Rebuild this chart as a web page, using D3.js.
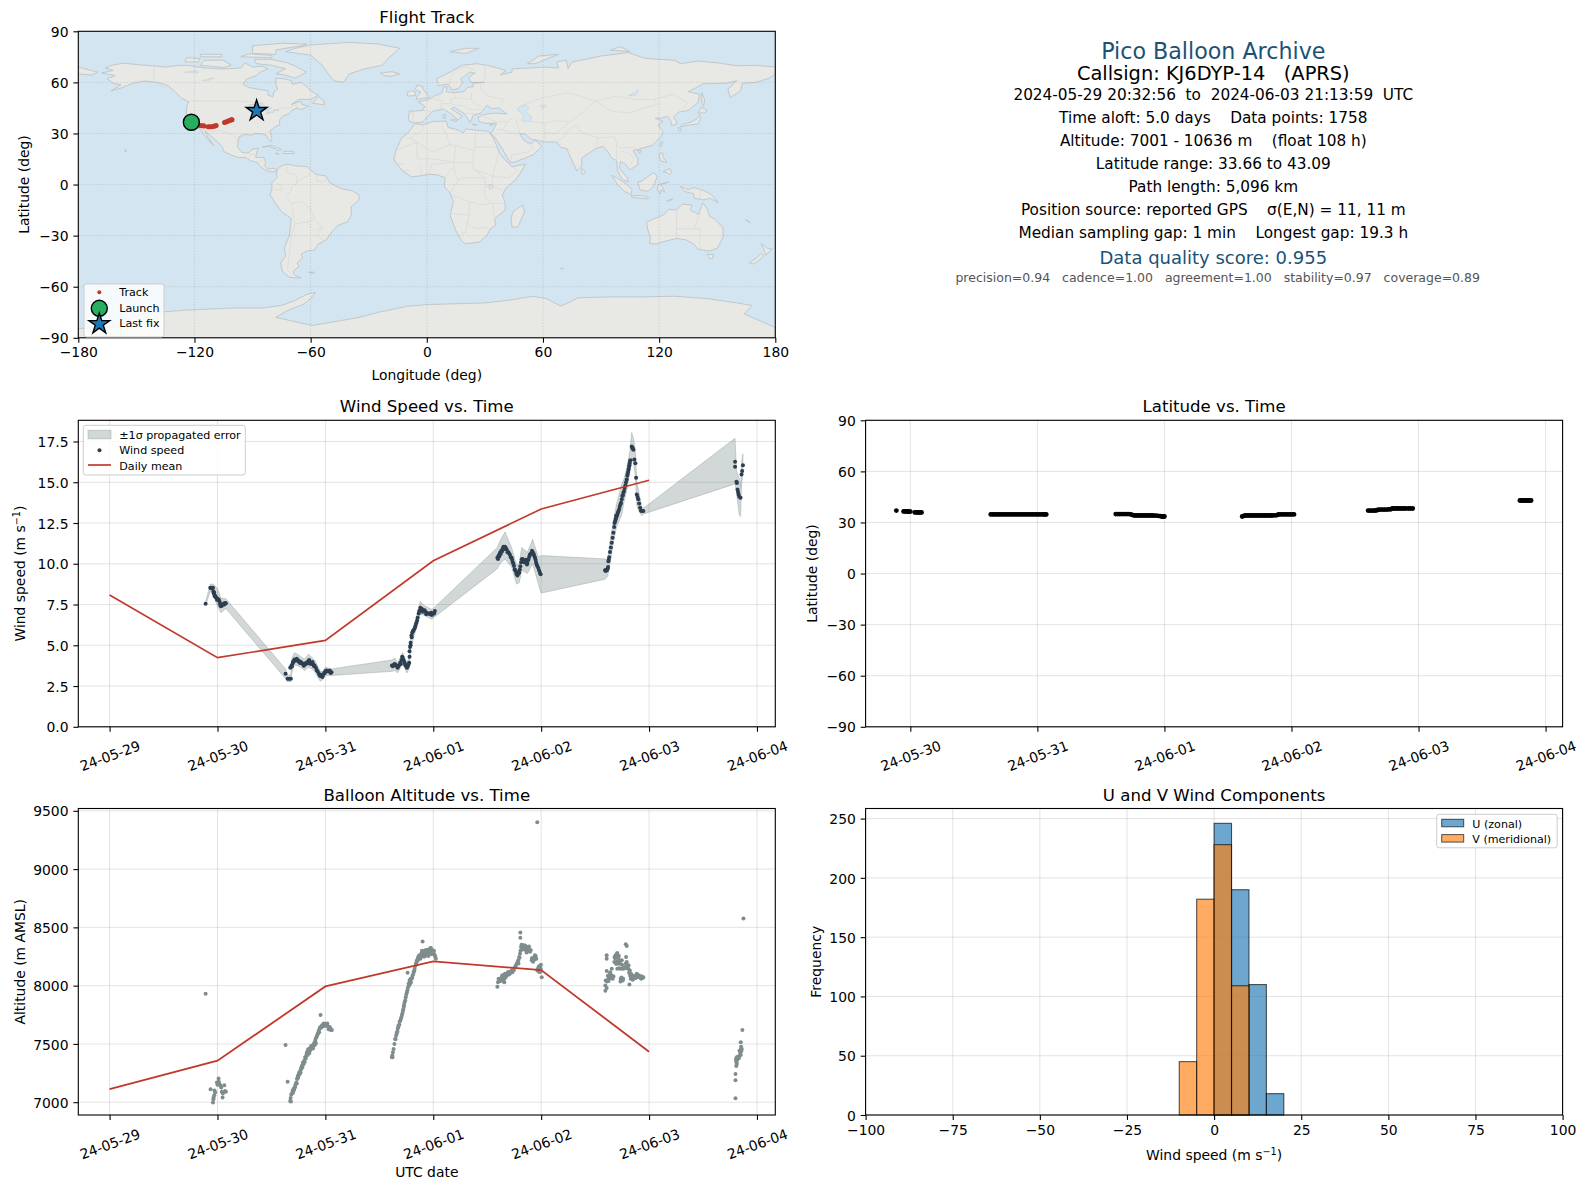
<!DOCTYPE html>
<html>
<head>
<meta charset="utf-8">
<script src="https://cdn.jsdelivr.net/npm/d3@7"></script>
<style>
html, body { margin: 0; padding: 0; background: #fff; overflow: hidden; }
text { font-family: "DejaVu Sans", sans-serif; fill: #000; white-space: pre; }
.tick text { font-size: 13.9px; }
.tick line { stroke: #000; stroke-width: 1.1; }
.domain { display: none; }
</style>
</head>
<body>
<svg id="fig" width="1586" height="1189"></svg>
<script>
// ---- data (x = days since 2024-05-29 00:00 UTC) ----
const dateTicks = [0, 1, 2, 3, 4, 5, 6];
const dateLabels = ["24-05-29", "24-05-30", "24-05-31", "24-06-01", "24-06-02", "24-06-03", "24-06-04"];
const latDateTicks = [1, 2, 3, 4, 5, 6];
const latDateLabels = dateLabels.slice(1);

const windMean = [[0, 8.08], [1, 4.24], [2, 5.3], [3, 10.18], [4, 13.36], [5, 15.12]];
const altMean = [[0, 7112], [1, 7356], [2, 7993], [3, 8208], [4, 8134], [5, 7433]];

const windPoints = [
  [.89,7.55],[.933,8.53],[.945,8.53],[.958,8.53],[.962,8.3],[.966,8.18],[.972,8.08],[.98,8.0],[.99,7.91],[1.002,7.85],[1.013,7.78],[1.024,7.55],[1.032,7.4],[1.04,7.42],[1.05,7.5],[1.06,7.56],[1.07,7.6],[1.078,7.58],
  [1.631,3.25],[1.65,2.94],[1.665,2.94],[1.68,2.94],[1.674,3.62],[1.685,3.75],[1.696,3.89],[1.705,4.02],[1.714,4.13],[1.728,4.12],[1.742,4.09],[1.757,4.03],[1.773,3.97],[1.79,3.88],[1.807,3.8],[1.822,3.86],[1.833,3.97],[1.844,4.03],[1.858,3.95],[1.875,3.89],[1.888,3.84],[1.9,3.76],[1.913,3.6],[1.928,3.41],[1.94,3.25],[1.952,3.11],[1.965,3.1],[1.977,3.15],[1.988,3.28],[2.0,3.41],[2.015,3.4],[2.03,3.39],[2.045,3.37],[2.057,3.35],
  [2.617,3.76],[2.632,3.78],[2.647,3.82],[2.658,3.74],[2.669,3.62],[2.682,3.78],[2.694,3.93],[2.706,4.1],[2.716,4.23],[2.725,4.08],[2.734,3.93],[2.745,3.76],[2.756,3.62],[2.767,3.75],[2.777,3.93],[2.78,4.3],[2.78,4.64],[2.79,5.0],[2.79,5.15],[2.798,5.6],[2.805,5.77],[2.815,5.9],[2.83,6.07],[2.842,6.35],[2.855,6.69],[2.865,6.95],[2.88,7.3],[2.895,7.22],[2.91,7.14],[2.925,7.05],[2.94,6.99],[2.96,6.95],[2.987,6.85],[3.0,6.97],[3.015,7.1],
  [3.594,10.37],[3.606,10.52],[3.618,10.67],[3.63,10.8],[3.643,10.92],[3.655,11.0],[3.665,11.04],[3.68,10.88],[3.695,10.72],[3.71,10.55],[3.726,10.37],[3.737,10.1],[3.748,9.86],[3.76,9.6],[3.773,9.35],[3.785,9.38],[3.797,9.45],[3.807,9.85],[3.82,10.27],[3.835,10.2],[3.85,10.16],[3.862,10.08],[3.872,10.02],[3.884,10.3],[3.896,10.57],[3.91,10.66],[3.921,10.72],[3.932,10.55],[3.943,10.37],[3.953,10.1],[3.964,9.86],[3.98,9.6],[3.995,9.35],
  [4.592,9.61],[4.604,9.63],[4.617,9.69],[4.623,10.16],[4.63,10.4],[4.638,10.72],[4.646,11.0],[4.654,11.29],[4.662,11.6],[4.669,11.9],[4.677,12.25],[4.685,12.6],[4.692,12.78],[4.7,12.92],[4.71,13.12],[4.722,13.33],[4.735,13.65],[4.747,13.95],[4.757,14.2],[4.768,14.46],[4.78,14.8],[4.793,15.17],[4.802,15.5],[4.811,15.79],[4.818,16.05],[4.824,16.3],[4.839,17.2],[4.847,17.1],[4.855,17.0],[4.864,16.4],[4.873,16.16],[4.88,15.28],[4.886,14.25],[4.893,14.1],[4.9,13.95],[4.908,13.7],[4.917,13.44],[4.925,13.25],[4.932,13.23],[4.947,13.23],
  [5.797,16.26],[5.797,15.95],[5.81,15.03],[5.814,14.95],[5.82,14.56],[5.825,14.4],[5.83,14.25],[5.836,14.11],[5.848,14.05],[5.857,15.48],[5.863,15.69],[5.87,16.05]
];
// second pass over the thick parts of the trace
const windPointsThick = [
  [.94,8.5],[.952,8.5],[.968,8.25],[.975,8.0],[.985,7.95],[.995,7.8],[1.008,7.8],[1.018,7.7],[1.028,7.45],[1.045,7.5],[1.065,7.5],
  [1.69,3.7],[1.70,3.98],[1.72,4.05],[1.735,4.18],[1.75,4.0],[1.765,3.92],[1.78,3.88],[1.80,3.75],[1.815,3.9],[1.84,3.9],[1.85,4.1],[1.865,3.85],[1.88,3.98],[1.895,3.72],[1.92,3.45],[1.945,3.2],[1.96,3.2],[1.972,3.05],[1.995,3.3],[2.01,3.45],[2.04,3.45],[2.05,3.3],
  [2.625,3.72],[2.64,3.85],[2.665,3.75],[2.675,3.7],[2.70,3.85],[2.712,4.3],[2.72,4.1],[2.74,3.8],[2.75,3.72],[2.76,3.7],[2.772,3.85],[2.785,4.9],[2.80,5.5],[2.81,5.85],[2.82,5.95],[2.835,6.2],[2.85,6.5],[2.87,7.1],[2.885,7.25],[2.9,7.05],[2.92,7.15],[2.935,6.9],[2.97,6.9],[2.98,7.0],[3.008,6.95],
  [3.6,10.3],[3.612,10.45],[3.625,10.6],[3.637,10.75],[3.65,11.05],[3.66,10.9],[3.672,10.98],[3.688,10.7],[3.702,10.65],[3.718,10.4],[3.73,10.25],[3.742,10.0],[3.755,9.65],[3.767,9.5],[3.78,9.28],[3.79,9.5],[3.802,9.65],[3.815,10.1],[3.828,10.3],[3.842,10.1],[3.857,10.25],[3.868,9.95],[3.878,10.2],[3.89,10.45],[3.903,10.6],[3.915,10.8],[3.928,10.65],[3.938,10.45],[3.948,10.25],[3.958,9.95],[3.972,9.75],[3.988,9.45],
  [4.598,9.55],[4.61,9.6],[4.62,9.8],[4.626,10.25],[4.68,12.5],[4.69,12.7],[4.695,12.95],[4.705,13.0],[4.715,13.2],[4.728,13.5],[4.74,13.75],[4.752,14.15],[4.762,14.35],[4.774,14.65],[4.786,15.0],[4.798,15.4],[4.806,15.65],[4.815,15.95],[4.82,16.15],[4.828,16.35],[4.842,17.15],[4.85,17.05]
];

// time, lower edge, upper edge of the +-1 sigma band
const windBand = [
  [.89,7.45,7.65],[.933,8.3,8.75],[.96,8.1,8.75],[1.0,7.4,8.5],[1.032,7.0,7.9],[1.078,7.25,7.85],
  [1.631,2.95,3.55],[1.65,2.75,3.15],[1.68,2.78,3.2],[1.69,3.35,4.2],[1.714,3.8,4.55],[1.742,3.75,4.45],[1.773,3.65,4.3],[1.807,3.45,4.15],[1.844,3.65,4.45],[1.875,3.55,4.25],[1.9,3.4,4.1],[1.928,3.05,3.75],[1.952,2.8,3.4],[1.977,2.9,3.4],[2.0,3.15,3.65],[2.057,3.15,3.55],
  [2.617,3.4,4.1],[2.647,3.45,4.2],[2.669,3.3,3.9],[2.716,3.85,4.55],[2.756,3.3,3.95],[2.777,3.55,4.3],[2.79,4.8,5.5],[2.83,5.75,6.4],[2.88,6.9,7.7],[2.91,6.85,7.45],[2.987,6.6,7.2],[3.015,6.75,7.35],
  [3.594,9.7,11.0],[3.618,10.0,11.4],[3.665,10.3,11.95],[3.726,9.8,11.0],[3.773,8.75,9.9],[3.797,8.85,10.05],[3.82,9.6,11.0],[3.872,9.4,10.7],[3.921,10.0,11.5],[3.964,9.0,10.6],[3.98,8.6,10.4],[4.0,8.2,10.5],
  [4.592,9.05,10.3],[4.617,9.25,10.2],[4.638,10.0,11.4],[4.669,11.3,12.6],[4.7,12.3,13.7],[4.747,13.0,14.9],[4.768,13.8,15.2],[4.793,14.5,15.9],[4.811,15.2,16.5],[4.824,15.7,17.0],[4.839,16.4,18.05],[4.855,16.2,17.7],[4.873,15.4,16.9],[4.886,13.6,15.0],[4.9,13.3,14.6],[4.932,12.95,13.5],[4.947,13.05,13.4],
  [5.797,14.9,17.7],[5.81,14.4,15.7],[5.836,13.0,15.2],[5.848,12.9,14.7],[5.857,14.8,16.2],[5.87,15.6,16.75]
];

const altPoints = [
  [.89,7930],[.936,7112],[.958,6997],[.964,7040],[.962,7025],[.97,7060],[.979,7083],[.972,7100],[.995,7169],[1.0,7150],[1.01,7204],[1.012,7175],[1.02,7155],[1.028,7140],[1.035,7126],[1.04,7090],[1.047,7040],[1.05,7075],[1.063,7146],[1.07,7095],[1.078,7089],
  [1.631,7491],[1.65,7175],[1.674,7011],[1.678,7035],[1.684,7065],[1.696,7098],[1.706,7115],[1.715,7126],[1.722,7150],[1.73,7169],[1.737,7200],[1.745,7227],[1.755,7250],[1.767,7270],[1.775,7295],[1.783,7313],[1.792,7340],[1.804,7356],[1.812,7385],[1.823,7399],[1.83,7430],[1.844,7442],[1.85,7420],[1.858,7465],[1.866,7471],[1.878,7470],[1.891,7485],[1.898,7510],[1.906,7528],[1.912,7505],[1.918,7560],[1.928,7585],[1.937,7610],[1.946,7629],[1.955,7749],[1.958,7645],[1.968,7657],[1.98,7668],[1.99,7665],[2.0,7672],[2.012,7665],[2.023,7651],[2.035,7640],[2.045,7634],[2.06,7620],
  [2.617,7385],[2.62,7400],[2.626,7428],[2.632,7456],[2.64,7500],[2.647,7542],[2.655,7570],[2.663,7600],[2.67,7630],[2.678,7657],[2.688,7690],[2.7,7715],[2.71,7750],[2.719,7786],[2.727,7820],[2.734,7858],[2.745,7900],[2.756,7944],[2.762,8110],[2.765,7985],[2.771,8016],[2.78,8045],[2.793,8030],[2.8,8060],[2.808,8088],[2.818,8120],[2.827,8145],[2.838,8185],[2.848,8217],[2.858,8240],[2.873,8260],[2.88,8230],[2.89,8275],[2.901,8289],[2.901,8378],[2.91,8250],[2.926,8303],[2.935,8260],[2.95,8289],[2.96,8310],[2.978,8323],[2.985,8270],[2.99,8305],[3.003,8289],[3.012,8265],[3.024,8231],
  [3.594,7990],[3.612,8045],[3.62,8060],[3.634,8073],[3.658,8030],[3.645,8050],[3.65,8085],[3.665,8102],[3.68,8085],[3.695,8116],[3.71,8105],[3.726,8131],[3.74,8140],[3.757,8159],[3.772,8185],[3.788,8217],[3.796,8245],[3.804,8274],[3.807,8412],[3.807,8455],[3.813,8332],[3.825,8340],[3.835,8346],[3.847,8320],[3.859,8303],[3.87,8320],[3.881,8332],[3.892,8310],[3.903,8303],[3.912,8217],[3.92,8235],[3.934,8240],[3.94,8225],[3.949,8254],[3.964,8131],[3.964,9402],[3.972,8150],[3.983,8116],[3.989,8168],[3.996,8145],[4.005,8073],
  [4.595,7956],[4.595,8002],[4.607,7979],[4.598,8045],[4.607,8125],[4.61,8035],[4.623,8059],[4.618,8085],[4.638,8102],[4.63,8070],[4.645,8065],[4.654,8145],[4.663,8059],[4.607,8260],[4.607,8231],[4.678,8203],[4.685,8235],[4.69,8260],[4.7,8270],[4.71,8260],[4.716,8231],[4.7,8205],[4.712,8190],[4.731,8188],[4.706,8145],[4.722,8150],[4.747,8217],[4.762,8145],[4.737,8059],[4.756,8045],[4.745,8070],[4.787,8246],[4.793,8203],[4.808,8145],[4.8,8170],[4.824,8088],[4.818,8010],[4.784,8355],[4.793,8340],[4.83,8060],[4.84,8073],[4.848,8050],[4.855,8059],[4.87,8085],[4.886,8102],[4.895,8075],[4.905,8090],[4.916,8073],[4.93,8080],[4.947,8073],
  [5.801,7034],[5.801,7189],[5.801,7241],[5.813,7327],[5.807,7356],[5.81,7340],[5.813,7385],[5.82,7370],[5.828,7393],[5.84,7400],[5.85,7405],[5.838,7442],[5.85,7450],[5.859,7456],[5.85,7514],[5.865,7620],[5.875,8576]
];
// second pass, the ramps and clusters are several dots wide
const altPointsThick = [
  [1.68,7005],[1.69,7075],[1.7,7080],[1.71,7105],[1.72,7130],[1.735,7160],[1.742,7200],[1.75,7215],[1.76,7240],[1.77,7255],[1.778,7285],[1.787,7300],[1.797,7325],[1.808,7345],[1.818,7375],[1.827,7420],[1.835,7405],[1.84,7455],[1.854,7440],[1.862,7450],[1.87,7485],[1.885,7460],[1.895,7500],[1.902,7490],[1.91,7545],[1.922,7570],[1.932,7590],[1.942,7600],[1.95,7640],[1.963,7640],[1.975,7650],[1.985,7675],[1.995,7655],[2.005,7655],[2.018,7675],[2.03,7625],[2.04,7645],[2.05,7620],
  [2.622,7385],[2.65,7540],[2.66,7585],[2.668,7605],[2.675,7640],[2.685,7665],[2.695,7700],[2.705,7730],[2.715,7765],[2.723,7800],[2.73,7835],[2.74,7875],[2.75,7925],[2.76,7960],[2.775,8000],[2.785,8015],[2.79,8060],[2.805,8070],[2.815,8100],[2.825,8125],[2.835,8170],[2.845,8200],[2.855,8215],[2.865,8255],[2.885,8245],[2.895,8300],[2.905,8265],[2.915,8295],[2.92,8250],[2.93,8280],[2.94,8305],[2.945,8265],[2.955,8255],[2.965,8285],[2.972,8320],[2.98,8290],[2.995,8280],[3.006,8300],[3.018,8250],
  [3.6,8030],[3.605,8060],[3.625,8040],[3.64,8090],[3.66,8060],[3.672,8075],[3.688,8110],[3.703,8095],[3.718,8120],[3.733,8115],[3.748,8135],[3.765,8170],[3.78,8200],[3.79,8190],[3.8,8240],[3.808,8300],[3.818,8350],[3.828,8310],[3.84,8320],[3.852,8345],[3.865,8285],[3.875,8300],[3.887,8335],[3.897,8290],[3.915,8235],[3.925,8205],[3.942,8260],[3.955,8230],[3.968,8130],[3.978,8165],[3.98,8140],[3.993,8120],[3.998,8180],
  [4.68,8245],[4.695,8250],[4.705,8280],[4.72,8255],[4.725,8210],[4.695,8185],[4.735,8145],[4.75,8180],[4.755,8150],[4.778,8160],[4.785,8190],[4.79,8150],[4.81,8175],[4.815,8110],[4.822,8130],[4.835,8100],[4.625,8040],[4.64,8115],[4.65,8090],[4.67,8080],[4.735,8035],[4.76,8060],[4.85,8085],[4.878,8065],[4.925,8060],[4.94,8065],
  [5.808,7310],[5.806,7370],[5.815,7360],[5.822,7385],[5.834,7380],[5.845,7425],[5.856,7440],[5.853,7475]
];

const latPoints = [
  [.89,37.0],[.947,36.5],[.965,36.5],[.985,36.4],[1.0,36.4],[1.035,35.9],[1.055,35.9],[1.07,35.9],[1.088,35.9],
  [1.633,34.7],[1.66,34.7],[1.69,34.7],[1.72,34.7],[1.75,34.7],[1.78,34.7],[1.81,34.7],[1.84,34.7],[1.87,34.7],[1.9,34.7],[1.93,34.7],[1.96,34.7],[1.99,34.7],[2.02,34.7],[2.05,34.7],[2.07,34.7],
  [2.617,34.9],[2.645,34.9],[2.675,34.9],[2.705,34.9],[2.735,34.8],[2.757,34.2],[2.785,34.1],[2.815,34.1],[2.845,34.1],[2.875,34.1],[2.905,34.1],[2.935,34.0],[2.968,33.7],[2.985,33.5],[3.0,33.5],
  [3.612,33.5],[3.636,34.1],[3.665,34.1],[3.695,34.1],[3.725,34.1],[3.755,34.1],[3.785,34.1],[3.815,34.1],[3.845,34.1],[3.88,34.2],[3.9,34.7],[3.93,34.7],[3.96,34.7],[3.99,34.7],[4.02,34.7],
  [4.603,37.0],[4.63,37.0],[4.655,37.0],[4.673,37.2],[4.69,37.6],[4.72,37.6],[4.75,37.6],[4.78,37.7],[4.796,38.2],[4.825,38.2],[4.855,38.2],[4.885,38.2],[4.92,38.2],[4.954,38.2],
  [5.798,42.9],[5.82,42.9],[5.845,42.9],[5.865,42.9],[5.886,42.9]
];
const latPointsFill = [
  [.956,36.5],[.975,36.45],[.993,36.4],[1.045,35.9],[1.063,35.9],[1.079,35.9],
  [1.646,34.7],[1.675,34.7],[1.705,34.7],[1.735,34.7],[1.765,34.7],[1.795,34.7],[1.825,34.7],[1.855,34.7],[1.885,34.7],[1.915,34.7],[1.945,34.7],[1.975,34.7],[2.005,34.7],[2.035,34.7],[2.06,34.7],
  [2.63,34.9],[2.66,34.9],[2.69,34.9],[2.72,34.9],[2.746,34.5],[2.77,34.1],[2.8,34.1],[2.83,34.1],[2.86,34.1],[2.89,34.1],[2.92,34.05],[2.952,33.9],[2.977,33.6],[2.992,33.5],
  [3.625,33.9],[3.65,34.1],[3.68,34.1],[3.71,34.1],[3.74,34.1],[3.77,34.1],[3.8,34.1],[3.83,34.1],[3.862,34.15],[3.89,34.5],[3.915,34.7],[3.945,34.7],[3.975,34.7],[4.005,34.7],
  [4.616,37.0],[4.643,37.0],[4.664,37.1],[4.68,37.4],[4.705,37.6],[4.735,37.6],[4.765,37.65],[4.788,38.0],[4.81,38.2],[4.84,38.2],[4.87,38.2],[4.9,38.2],[4.937,38.2],
  [5.809,42.9],[5.832,42.9],[5.855,42.9],[5.875,42.9]
];

// flight track, lon / lat
const trackPoints = [
  [-117.2,34.7],[-116.4,34.6],[-115.7,34.5],[-115,34.4],
  [-112.9,33.9],[-112,33.9],[-111,34],[-110,34.2],[-109.4,34.4],[-108.8,34.7],
  [-104.5,36.4],[-103.8,36.8],[-103,37.1],[-102.3,37.5],[-101.5,37.8],[-101,38],[-100.6,38.1]
];
const launchPoint = [-121.6, 36.6];
const lastFixPoint = [-87.9, 43.3];

// histogram, 5 m/s bins
const binEdges = [-10, -5, 0, 5, 10, 15, 20];
const uCounts = [0, 0, 246, 190, 110, 18];
const vCounts = [45, 182, 228, 109, 0, 0];

const infoLines = [
  "2024-05-29 20:32:56  to  2024-06-03 21:13:59  UTC",
  "Time aloft: 5.0 days    Data points: 1758",
  "Altitude: 7001 - 10636 m    (float 108 h)",
  "Latitude range: 33.66 to 43.09",
  "Path length: 5,096 km",
  "Position source: reported GPS    \u03c3(E,N) = 11, 11 m",
  "Median sampling gap: 1 min    Longest gap: 19.3 h"
];

// rough coastlines by hand, lon / lat
const landNorthAmerica = [[-168,65.5],[-164,66.5],[-162,67],[-166,68.5],[-163,70],[-156.5,71.3],[-150,70.5],[-141,69.7],[-135,69],[-128,70],[-124,70],[-115,68.5],[-108,68],[-102,68],[-96,68.5],[-94,71.5],[-90,69],[-85,69.5],[-82,68],[-86,66],[-88,64],[-93,62],[-95,59],[-92,57],[-87,56],[-82,55],[-82,52.5],[-79.5,51.5],[-79,54.5],[-77,56],[-78,59],[-78,62.5],[-73,62],[-70,61],[-69.5,58.8],[-65,60],[-62,57.5],[-60,55],[-56,52.5],[-60,50],[-66,50],[-70,47],[-65,49],[-64.5,47],[-61,46],[-65,44],[-67,45],[-70,43.5],[-71,41.5],[-74,40.5],[-76,38],[-76,35],[-78.5,33.8],[-81,31.5],[-80,27],[-80.5,25.2],[-82,27],[-83,29],[-85,29.7],[-89,30],[-90,29],[-94,29.5],[-97,28],[-97.5,25],[-97.8,22],[-95.5,18.8],[-92,18.5],[-90.5,20.5],[-87,21.5],[-88,18],[-88.5,16],[-84,15.8],[-83.3,13],[-83.7,11],[-82,9],[-79.5,9.5],[-77.3,8.7],[-78,7.5],[-80,7.5],[-81,7.5],[-83,8.2],[-85.5,10],[-87.5,13],[-91,14],[-94,16],[-97,15.8],[-101,17.3],[-105,19.5],[-105.5,22],[-109,26],[-112.5,29.5],[-114.7,31.5],[-113,27.5],[-110,23],[-112,25],[-115,29],[-117,32.5],[-120.5,34.5],[-122.5,37.5],[-124.3,40.5],[-124,46],[-123,48.5],[-127,51],[-130,54.5],[-133.5,58],[-139,60],[-146,60.8],[-152,59.5],[-157,57],[-163,55],[-158,58.5],[-162,59.5],[-165,62],[-161,64]];
const landSouthAmerica = [[-77.3,8.7],[-75,11],[-72,12],[-68,11],[-62,10.5],[-60,8.5],[-57,6],[-52,5],[-50,1],[-44,-2.5],[-39,-3.5],[-35,-6],[-35,-9],[-39,-13],[-39,-18],[-41,-22],[-46,-24],[-48.5,-27],[-52,-32.5],[-56,-35],[-58,-38.5],[-62,-39],[-65,-41],[-64,-43],[-67,-46],[-66,-48],[-69,-51],[-68.5,-53],[-65,-55],[-71,-54.5],[-74.5,-51],[-75.5,-46],[-73,-42],[-73.5,-37],[-71,-30],[-70,-20],[-75,-16],[-77.5,-12],[-81,-6],[-80,-2.5],[-80,1],[-77.5,4],[-77.5,7]];
const landAfrica = [[-6,35.8],[-2,35],[3,37],[10,37.3],[11,33.5],[15,32.5],[19,30.5],[20,32.7],[25,32],[32,31.2],[34,28],[36,23],[37.5,18.5],[40,15],[43,11.5],[44,10.5],[51,12],[49,8],[46,3],[41,-2],[39,-6],[40.5,-11],[40.5,-15],[35,-20],[35.5,-24],[32.8,-26],[31,-30],[27,-33.8],[20,-34.8],[18,-33],[15,-27],[12,-18],[13.8,-10],[12,-5],[9,-1],[9.5,4],[5,5.8],[1,6],[-4,5],[-8,4.5],[-13,8.5],[-17,14.7],[-16,20],[-13,27.5],[-10,30]];
const landEurasia = [[-9,37],[-9.5,39],[-9,43],[-2,43.5],[-1,46],[-4.5,48.5],[1,50],[4,52],[8,54],[8.5,57],[10.5,57.5],[10,54.5],[14,54],[19,54.5],[21,57],[24,57.5],[24,59.5],[30,60],[23,60],[21.5,63],[25,65.5],[22,65.8],[17.5,62],[18.5,60],[16.5,56.5],[13,55.5],[11,59],[6,58],[5,62],[12,66],[18,70],[26,71],[32,69.8],[41,67],[38,64.5],[44,66],[44,68],[54,68.5],[60,69],[68,68.5],[67,72],[72,73],[73,68],[75,72],[82,73.5],[90,75.5],[104,77.5],[113,74],[128,73],[131,71],[140,72.5],[150,71.5],[160,69.8],[170,70],[180,69],[180,65],[177,62.5],[170,60],[163,59.5],[162,55],[156.7,51],[155.5,56],[160,61],[155,59.5],[143,59.2],[135,54.5],[141,53],[140,48],[135,43.5],[130,42.5],[127.5,39.5],[129.5,36],[126.5,34.5],[126,37.5],[124.5,40],[121,39],[118,39],[122,37],[119.5,35],[122,31],[121,28],[116.5,23],[110,21],[106.5,20],[109,15],[109,11.5],[105,8.7],[102,12.5],[100,13.5],[99.5,9.5],[103.5,4],[104,1.5],[101,3],[98.5,8],[98,14],[95,16],[94,18.5],[91,22.5],[87,21],[80,15.5],[80,11],[77.5,8],[73,19],[72.5,21],[69,22],[67,25],[61,25],[57,26],[54,26.5],[51,29.5],[48,30],[50,26],[51.5,25],[54,24],[56,26],[59.5,22.5],[55,17.5],[45,13],[43,13],[39,21],[35,28],[32.5,30],[34,31],[36,36],[30,36],[27,37],[26.5,39.5],[29,41],[35,42],[41.5,41.5],[37,45],[33.5,44.5],[31,46.5],[28,42],[24,40.7],[23,38],[22.5,36.5],[19.5,41.5],[14,45.5],[12.5,44.5],[18.5,40],[16,38],[12,42],[8.5,44.3],[3,43],[0,39.5],[-2,36.8],[-6,36.2]];
const landAustralia = [[113.5,-22],[114,-26],[115.5,-31],[115,-34.5],[118,-35],[124,-33],[129,-31.7],[134,-32.5],[138,-35],[140,-38],[146,-39],[150,-37.5],[153,-31],[153,-25.5],[149,-20.5],[146,-18.5],[145,-14.5],[142.5,-10.8],[141.5,-14],[140.5,-17.5],[136,-15],[137,-12],[132,-11.5],[129,-15],[125,-14.5],[122,-18],[116,-20.8]];
const landAntarctica = [[-180,-84.5],[-160,-84],[-152,-78],[-145,-75.5],[-125,-73.8],[-100,-72.5],[-85,-72.5],[-75,-71],[-68,-68],[-62,-64.5],[-57.5,-63.3],[-60,-67],[-64,-70.5],[-72,-74],[-78,-78],[-70,-80],[-59,-82.8],[-45,-80],[-35,-78],[-25,-75],[-10,-71.5],[0,-70.5],[15,-70],[30,-69.5],[42,-68],[55,-65.6],[62,-67],[69,-71.4],[74,-69],[78,-66.5],[95,-66],[110,-66],[128,-65.6],[145,-67],[160,-69.5],[168,-71],[164,-76],[168,-78],[180,-84],[180,-90],[-180,-90]];
const landIslands = [
  [[-62,66],[-68,62.5],[-74,64.5],[-78,65],[-73,68],[-80,70],[-88,71],[-89,73.5],[-80,73.5],[-72,71.5],[-68,69.5]],
  [[-117,70],[-105,68.8],[-101,70],[-105,73],[-115,73]],
  [[-90,77],[-78,76.5],[-78,79],[-65,81.5],[-62,82.5],[-75,83],[-90,81.5]],
  [[-125,72],[-118,72],[-117,74],[-124,74.5]],
  [[-96,75],[-80,74.5],[-80,75.8],[-92,76.8]],
  [[-117,75],[-106,75],[-106,76.5],[-117,76.5]],
  [[-59,47.8],[-53,46.8],[-53,49],[-56,51.5]],
  [[-85,22],[-80,23],[-75,20.5],[-77.5,19.9],[-78,21],[-82,22.5]],
  [[-74,19.5],[-69,19.5],[-68.5,18.3],[-74,18.2]],
  [[-78.3,18.4],[-76.3,18.2],[-77,17.8]],
  [[-156,20.6],[-155,19.7],[-155.7,19]],
  [[-73,78],[-60,76],[-54,70],[-51,65],[-48,61],[-43,60],[-40,65],[-32,68],[-23,70],[-20,74],[-14,80],[-25,82.5],[-40,83.5],[-60,82],[-68,80]],
  [[-24,65.5],[-18,66.3],[-14,65],[-19,63.5],[-22,64]],
  [[-61,-51.5],[-58,-51.5],[-59,-52.3]],
  [[49.5,-12],[50.5,-16],[47,-25],[44,-25],[43.5,-20],[44.5,-16]],
  [[142,54],[143.5,50],[143,46],[142,48]],
  [[131,34],[136,35],[140,35.5],[141.5,39],[141,41],[139.5,38.5],[136,36.5],[132,35.3]],
  [[140,42],[142,45.5],[145,43.5],[143,42]],
  [[130,33.5],[131.5,33],[131,31],[130,32]],
  [[121,25],[122,25],[120.8,22],[120.2,23]],
  [[109,20],[110.8,20],[110,18.3]],
  [[120.5,18.5],[122,18.5],[122,16],[124,13],[121,13.8],[120,16]],
  [[122,7.5],[125.5,9.5],[126.5,7],[125.5,5.8],[124,7]],
  [[109,1.5],[111,2],[114,4.5],[117,7],[119,5],[117.8,1],[116.5,-2],[114,-4],[110,-3]],
  [[95.5,5.5],[98,4],[103.5,0],[106,-3],[105.5,-5.8],[102,-4],[98.5,0]],
  [[105.5,-6.5],[111,-6.5],[114.5,-7.5],[114,-8.5],[106,-7.5]],
  [[119.5,0],[125,1.5],[121,0],[123,-4.5],[121,-3],[120.5,-5.5],[119,-3]],
  [[131,-1],[135,-3],[138,-1.7],[144,-4],[147,-6],[150.5,-10.5],[146,-8],[143,-9],[138,-8],[138,-5.5],[133,-4]],
  [[124,-9.5],[127,-8.4],[125,-10]],
  [[80,9.5],[82,7.5],[81,6],[80,6.5]],
  [[-5.5,50],[1.3,51.2],[0,53.5],[-2,56],[-2,57.5],[-5,58.5],[-6,56],[-3,54],[-5,52]],
  [[-10,52],[-6,52.2],[-6,54.5],[-8,55.2],[-10,54]],
  [[12,78],[20,80],[27,80],[20,77]],
  [[52,71],[56,71],[68,76.5],[58,75.5]],
  [[95,79],[105,78],[100,81]],
  [[12.5,38],[15.5,38],[15,36.8]],
  [[8.3,41],[9.7,41],[9.5,39],[8.5,39]],
  [[23.5,35.5],[26,35.2],[24,34.9]],
  [[32.3,35],[34.5,35.6],[33.5,34.6]],
  [[144.7,-41],[148,-41],[147.5,-43.5],[146,-43.5]],
  [[172.7,-34.5],[176,-37.5],[178.5,-37.8],[175,-41.5],[174.5,-39]],
  [[172.7,-40.5],[174,-42],[171,-45],[169,-46.7],[166.5,-45.8],[170.5,-43]],
  [[165,-21],[167,-22.3],[164.5,-20.5]],
  [[-180,69],[-175,67.5],[-170,66],[-173,64.3],[-180,65]],
  [[69,-49],[70.5,-49.2],[69.5,-49.7]]
];
const lakes = [
  [[47,45],[51,47],[53,45],[51,43],[54,40],[53.5,37],[49,37.5],[50,41],[47,43.5]],
  [[-92,46.7],[-85,48],[-84.7,46.5],[-88,46.8]],
  [[-87.5,46],[-85,45.5],[-86.5,41.7],[-88,42.5]],
  [[-84,46],[-80,45],[-82,43],[-83.7,44]],
  [[-83,42],[-79,42.8],[-79,42.4],[-83,41.5]],
  [[-79.5,43.7],[-76.5,44],[-76.5,43.4]],
  [[-125,66],[-119,67],[-118,65.5]],
  [[-116,61],[-110,62.7],[-113,61]],
  [[58.5,46.5],[61.5,46.5],[60,44.5]],
  [[104,52],[109.5,55.7],[108,52.5]],
  [[32,0],[34,0],[34,-2.5],[32,-2.5]]
];
const borders = [
  [[-123,49],[-95,49],[-88,48],[-83,46],[-82.5,42],[-79,43],[-75,45],[-71,45],[-67.5,47],[-67,45]],
  [[-141,69.7],[-141,60],[-133.5,56]],
  [[-117,32.5],[-111,31.3],[-106.5,31.7],[-101,29.5],[-97.5,26]],
  [[-92,14.5],[-91,17.8],[-89,17.8],[-88.2,15.8]],
  [[-83.3,15],[-87,13]],[[-85,11],[-83.7,11]],
  [[-72,12],[-72.5,7],[-67.5,6],[-67,1],[-70,-1],[-70,-4],[-73,-7],[-70,-11],[-69,-16],[-69.5,-18]],
  [[-60,8.5],[-61,5],[-64,4],[-67,1]],[[-57,6],[-57,2],[-52,2],[-52,5]],
  [[-77.5,1],[-75,-1],[-75,-3],[-78,-3],[-80,-3.5]],
  [[-70,-11],[-65,-10],[-60,-14],[-58,-20],[-54,-25],[-57,-30],[-53,-33]],
  [[-69.5,-18],[-68,-23],[-70,-30],[-71,-40],[-72,-50],[-70,-52]],
  [[-62,-22],[-58,-20]],[[-68,-23],[-62,-22],[-58,-27],[-54,-25]],
  [[-9,42],[-7,42],[-7,37]],[[-2,43.5],[3,42.5]],[[2.5,51],[6,49.5],[8,49],[7.5,47.5],[7,44]],[[7,53.5],[6,51],[6,49.5]],
  [[14,54],[15,51],[12,50],[13,47.5],[7.5,47.5]],[[15,51],[23,50],[24,48],[29,45.5]],[[23,54],[23,50]],
  [[28,59.5],[28,56],[31,52],[40,50],[38,47]],[[30,69.8],[30,62],[28,60]],[[22,65.8],[24,68],[20,69]],[[12,59],[12,63],[16,68],[20,69]],
  [[13,47],[19,46],[22,44],[28,44]],[[20,42],[26,41.5]],[[26.5,41.5],[36,36.8],[42,37],[44.5,39.5]],
  [[48,46],[60,51],[73,54],[87,49]],[[87,49],[98,52],[107,50],[117,50],[127,53],[135,48],[131,43]],[[87,49],[96,43],[105,42],[112,45],[119,47],[117,50]],
  [[53.5,37],[61,36],[61,31],[61,25]],[[61,36],[66,37.5],[74,37],[80,42],[87,49]],[[61,31],[66,29.5],[70,33],[74,37]],[[67,25],[71,28],[74,33],[78,35],[79,31],[88,27.5],[97,28],[98,24],[100,21],[102,22],[108,21.5]],
  [[88,27.5],[88,22]],[[92,25],[92,21]],[[98,24],[98,14]],[[100,20],[105,18],[107,15],[105,11]],
  [[46,39],[48,30]],[[39,32],[47,29.5]],[[36,32.5],[39,32],[42,37]],[[55,22],[52,19],[44,17.5],[43,13]],[[55,22],[51,25]],
  [[-13,27.5],[-8.7,27.5],[-2,32],[-2,35]],[[-8.7,27.5],[3,19],[12,23.5],[10,30],[8,33],[8,37]],[[12,23.5],[25,20],[25,32]],[[25,22],[36,22]],
  [[-16,20],[-5,25],[-5,15],[4,15],[14,13]],[[-12,12],[-17,12.5]],[[-8,8],[-13,8.5]],[[-3,11],[-3,5]],[[1,6],[2.5,12],[14,13]],[[9,4],[14,10],[14,13],[15,23]],
  [[14,13],[24,13],[24,20]],[[24,13],[24,9],[34,5],[36,14],[37,18]],[[34,5],[42,4],[47,8],[43,11]],[[34,5],[34,-1],[40,-4]],[[34,-1],[30,-1],[30,-8],[34,-11],[40.5,-11]],[[14,10],[16,2],[12,-5]],[[24,9],[30,4],[30,-1]],[[16,2],[18,4],[30,4]],[[13,-6],[22,-10],[22,-18],[12,-17]],[[22,-10],[28,-12],[34,-11],[35,-20]],[[22,-18],[20,-28],[17,-29]],[[20,-22],[25,-26],[32,-25]],
  [[129,-15],[129,-31.7]],[[141,-17],[138,-26],[141,-26],[141,-38]],[[138,-26],[129,-26]],[[141,-2.5],[141,-9]]
];

// ---- layout ----
const fig = d3.select("#fig");
const leftX = 78.3, rightX = 865.6, panelW = 697, panelH = 306.5;
const topRow = 31.3, midRow = 420.3, lowRow = 808.5;
const red = "#c0392b", navy = "#2c3e50", slate = "#7f8c8d", titleBlue = "#1a5276";
const gridColor = "#b0b0b0";

function addPanel(x0, y0, title) {
  const g = fig.append("g").attr("transform", `translate(${x0},${y0})`);
  g.append("text").attr("x", panelW / 2).attr("y", -8).attr("text-anchor", "middle")
    .attr("font-size", "16.6px").text(title);
  return g;
}
function addFrame(g) {
  g.append("rect").attr("width", panelW).attr("height", panelH)
    .attr("fill", "none").attr("stroke", "#000").attr("stroke-width", 1.1);
}
function addGrid(g, x, y, xVals, yVals) {
  const lines = g.append("g").attr("stroke", gridColor).attr("stroke-opacity", 0.35).attr("stroke-width", 1);
  xVals.forEach(v => lines.append("line").attr("x1", x(v)).attr("x2", x(v)).attr("y1", 0).attr("y2", panelH));
  yVals.forEach(v => lines.append("line").attr("y1", y(v)).attr("y2", y(v)).attr("x1", 0).attr("x2", panelW));
  return lines;
}
function yLabel(g, xPos, label) {
  return g.append("text").attr("transform", `translate(${xPos},${panelH / 2}) rotate(-90)`)
    .attr("text-anchor", "middle").attr("font-size", "13.9px").text(label);
}
function xLabel(g, yPos, label) {
  return g.append("text").attr("x", panelW / 2).attr("y", yPos)
    .attr("text-anchor", "middle").attr("font-size", "13.9px").text(label);
}
function unitTspans(sel, before) {
  sel.append("tspan").text(before + " (m s");
  sel.append("tspan").attr("dy", -5.5).attr("font-size", "9.7px").text("\u22121");
  sel.append("tspan").attr("dy", 5.5).text(")");
}
function axisLeft(g, y, ticks, fmt) {
  g.append("g").call(d3.axisLeft(y).tickValues(ticks).tickFormat(fmt).tickSize(4.9).tickPadding(4.9))
    .selectAll(".tick text").attr("dy", "0.37em");
}
function axisBottom(g, x, ticks, fmt) {
  g.append("g").attr("transform", `translate(0,${panelH})`)
    .call(d3.axisBottom(x).tickValues(ticks).tickFormat(fmt).tickSize(4.9).tickPadding(4.9));
}
function dateAxis(g, x, ticks, labels) {
  const axis = g.append("g").attr("transform", `translate(0,${panelH})`)
    .call(d3.axisBottom(x).tickValues(ticks).tickFormat((d, i) => labels[i]).tickSize(4.9));
  axis.selectAll(".tick text")
    .attr("y", 0).attr("dy", 0)
    .attr("text-anchor", "middle")
    .attr("dominant-baseline", "central")
    .attr("transform", "translate(0,29) rotate(-20)");
}
const minusFmt = d => String(d).replace("-", "\u2212");

// ---- flight track map ----
const mapG = addPanel(leftX, topRow, "Flight Track");
const mapX = d3.scaleLinear().domain([-180, 180]).range([0, panelW]);
const mapY = d3.scaleLinear().domain([-90, 90]).range([panelH, 0]);
fig.append("defs").append("clipPath").attr("id", "mapClip").append("rect").attr("width", panelW).attr("height", panelH);
const mapLine = d3.line().x(d => mapX(d[0])).y(d => mapY(d[1]));
const ocean = "#d3e5f1", land = "#e8e8e4";
const mapBody = mapG.append("g").attr("clip-path", "url(#mapClip)");
mapBody.append("rect").attr("width", panelW).attr("height", panelH).attr("fill", ocean);
[landNorthAmerica, landSouthAmerica, landAfrica, landEurasia, landAustralia, landAntarctica, ...landIslands].forEach(poly => {
  mapBody.append("path").attr("d", mapLine(poly) + "Z").attr("fill", land)
    .attr("stroke", "#b9c0c4").attr("stroke-width", 0.8).attr("stroke-linejoin", "round");
});
lakes.forEach(poly => {
  mapBody.append("path").attr("d", mapLine(poly) + "Z").attr("fill", ocean)
    .attr("stroke", "#c3cbd0").attr("stroke-width", 0.5);
});
borders.forEach(path => {
  mapBody.append("path").attr("d", mapLine(path)).attr("fill", "none")
    .attr("stroke", "#d8d9d7").attr("stroke-width", 0.7);
});
const mapGrid = addGrid(mapBody, mapX, mapY, [-120, -60, 0, 60, 120], [-60, -30, 0, 30, 60]);
mapGrid.attr("stroke", "#808080").attr("stroke-opacity", 0.35).attr("stroke-width", 0.6).attr("stroke-dasharray", "1.6,1.4");
mapBody.selectAll(".track").data(trackPoints).enter().append("circle")
  .attr("class", "track").attr("cx", d => mapX(d[0])).attr("cy", d => mapY(d[1])).attr("r", 2.5).attr("fill", red);
mapBody.append("circle").attr("cx", mapX(launchPoint[0])).attr("cy", mapY(launchPoint[1])).attr("r", 8)
  .attr("fill", "#27ae60").attr("stroke", "#000").attr("stroke-width", 1.4);
const star = d3.symbol().type(d3.symbolStar).size(135);
mapBody.append("path").attr("d", star()).attr("transform", `translate(${mapX(lastFixPoint[0])},${mapY(lastFixPoint[1])})`)
  .attr("fill", "#1f77b4").attr("stroke", "#000").attr("stroke-width", 1.4);
addFrame(mapG);
axisLeft(mapG, mapY, [-90, -60, -30, 0, 30, 60, 90], minusFmt);
axisBottom(mapG, mapX, [-180, -120, -60, 0, 60, 120, 180], minusFmt);
xLabel(mapG, panelH + 42, "Longitude (deg)");
yLabel(mapG, 28.5 - leftX, "Latitude (deg)");

function legendBox(g, x, y, w, h) {
  g.append("rect").attr("x", x).attr("y", y).attr("width", w).attr("height", h).attr("rx", 2.5)
    .attr("fill", "#fff").attr("fill-opacity", 0.8).attr("stroke", "#ccc").attr("stroke-width", 1);
}
function legendText(g, x, y, label) {
  g.append("text").attr("x", x).attr("y", y).attr("dominant-baseline", "central").attr("font-size", "11.1px").attr("fill", "#000").text(label);
}
const mapLeg = mapG.append("g").attr("transform", `translate(${-leftX},${-topRow})`);
legendBox(mapLeg, 84, 284, 80, 53);
mapLeg.append("circle").attr("cx", 99.3).attr("cy", 292.3).attr("r", 2).attr("fill", red);
mapLeg.append("circle").attr("cx", 99.3).attr("cy", 308.3).attr("r", 8).attr("fill", "#27ae60").attr("stroke", "#000").attr("stroke-width", 1.4);
mapLeg.append("path").attr("d", star()).attr("transform", "translate(99.3,324)").attr("fill", "#1f77b4").attr("stroke", "#000").attr("stroke-width", 1.4);
legendText(mapLeg, 119.3, 292.3, "Track");
legendText(mapLeg, 119.3, 308.3, "Launch");
legendText(mapLeg, 119.3, 323.3, "Last fix");

// ---- summary text ----
const centerX = rightX + panelW / 2 - 0.8;
function info(y, size, label, color, dx) {
  fig.append("text").attr("x", centerX + (dx || 0)).attr("y", y).attr("text-anchor", "middle").attr("dominant-baseline", "central")
    .attr("font-size", size + "px").style("fill", color || "#000").text(label);
}
info(50.8, 22.2, "Pico Balloon Archive", titleBlue);
info(73.8, 19.4, "Callsign: KJ6DYP-14   (APRS)");
infoLines.forEach((t, i) => info(95 + i * 23, 15.3, t));
info(257, 18, "Data quality score: 0.955", titleBlue);
info(277.7, 12.5, "precision=0.94   cadence=1.00   agreement=1.00   stability=0.97   coverage=0.89", "#555", 4.4);

// ---- wind speed ----
const windG = addPanel(leftX, midRow, "Wind Speed vs. Time");
const timeX = d3.scaleLinear().domain([-0.29, 6.17]).range([0, panelW]);
const windY = d3.scaleLinear().domain([0, 18.8]).range([panelH, 0]);
const windTicks = [0, 2.5, 5, 7.5, 10, 12.5, 15, 17.5];
addGrid(windG, timeX, windY, dateTicks, windTicks);
const bandArea = d3.area().x(d => timeX(d[0])).y0(d => windY(d[1])).y1(d => windY(d[2]));
windG.append("path").attr("d", bandArea(windBand)).attr("fill", slate).attr("fill-opacity", 0.35)
  .attr("stroke", slate).attr("stroke-opacity", 0.35).attr("stroke-width", 1);
windG.selectAll(".wind").data(windPoints.concat(windPointsThick)).enter().append("circle")
  .attr("class", "wind").attr("cx", d => timeX(d[0])).attr("cy", d => windY(d[1])).attr("r", 2).attr("fill", navy);
const meanLine = y => d3.line().x(d => timeX(d[0])).y(d => y(d[1]));
windG.append("path").attr("d", meanLine(windY)(windMean)).attr("fill", "none").attr("stroke", red).attr("stroke-width", 1.7);
addFrame(windG);
axisLeft(windG, windY, windTicks, d3.format(".1f"));
dateAxis(windG, timeX, dateTicks, dateLabels);
unitTspans(yLabel(windG, 25 - leftX, ""), "Wind speed");

const windLeg = windG.append("g").attr("transform", `translate(${-leftX},${-midRow})`);
legendBox(windLeg, 83.3, 425.3, 162, 49.7);
windLeg.append("rect").attr("x", 88).attr("y", 430.3).attr("width", 23).attr("height", 8.5)
  .attr("fill", slate).attr("fill-opacity", 0.35).attr("stroke", slate).attr("stroke-opacity", 0.35);
windLeg.append("circle").attr("cx", 99.5).attr("cy", 450.3).attr("r", 2).attr("fill", navy);
windLeg.append("line").attr("x1", 88).attr("x2", 111).attr("y1", 465).attr("y2", 465).attr("stroke", red).attr("stroke-width", 1.7);
legendText(windLeg, 119.3, 435.3, "\u00b11\u03c3 propagated error");
legendText(windLeg, 119.3, 450.3, "Wind speed");
legendText(windLeg, 119.3, 466, "Daily mean");

// ---- latitude ----
const latG = addPanel(rightX, midRow, "Latitude vs. Time");
const latX = d3.scaleLinear().domain([.648, 6.134]).range([0, panelW]);
const latY = d3.scaleLinear().domain([-90, 90]).range([panelH, 0]);
const latTicks = [-90, -60, -30, 0, 30, 60, 90];
addGrid(latG, latX, latY, latDateTicks, latTicks);
latG.selectAll(".lat").data(latPoints.concat(latPointsFill)).enter().append("circle")
  .attr("cx", d => latX(d[0])).attr("cy", d => latY(d[1])).attr("r", 2.4).attr("fill", "#000");
addFrame(latG);
axisLeft(latG, latY, latTicks, minusFmt);
dateAxis(latG, latX, latDateTicks, latDateLabels);
yLabel(latG, 817 - rightX, "Latitude (deg)");

// ---- altitude ----
const altG = addPanel(leftX, lowRow, "Balloon Altitude vs. Time");
const altY = d3.scaleLinear().domain([6890, 9520]).range([panelH, 0]);
const altTicks = [7000, 7500, 8000, 8500, 9000, 9500];
addGrid(altG, timeX, altY, dateTicks, altTicks);
altG.selectAll(".alt").data(altPoints.concat(altPointsThick)).enter().append("circle")
  .attr("cx", d => timeX(d[0])).attr("cy", d => altY(d[1])).attr("r", 2).attr("fill", slate);
altG.append("path").attr("d", meanLine(altY)(altMean)).attr("fill", "none").attr("stroke", red).attr("stroke-width", 1.8);
addFrame(altG);
axisLeft(altG, altY, altTicks, d3.format("d"));
dateAxis(altG, timeX, dateTicks, dateLabels);
altG.append("text").attr("x", panelW / 2).attr("y", 1177 - lowRow).attr("text-anchor", "middle").attr("font-size", "13.9px").text("UTC date");
yLabel(altG, 25 - leftX, "Altitude (m AMSL)");

// ---- wind components histogram ----
const histG = addPanel(rightX, lowRow, "U and V Wind Components");
const histX = d3.scaleLinear().domain([-100, 100]).range([0, panelW]);
const histY = d3.scaleLinear().domain([0, 258.5]).range([panelH, 0]);
const histXTicks = [-100, -75, -50, -25, 0, 25, 50, 75, 100];
const histYTicks = [0, 50, 100, 150, 200, 250];
addGrid(histG, histX, histY, histXTicks, histYTicks);
[[uCounts, "#1f77b4"], [vCounts, "#ff7f0e"]].forEach(([counts, color]) => {
  histG.selectAll(null).data(counts).enter().append("rect")
    .attr("x", (d, i) => histX(binEdges[i]))
    .attr("width", (d, i) => histX(binEdges[i + 1]) - histX(binEdges[i]))
    .attr("y", d => histY(d))
    .attr("height", d => panelH - histY(d))
    .attr("fill", color).attr("fill-opacity", 0.65)
    .attr("stroke", "#000").attr("stroke-opacity", 0.65).attr("stroke-width", d => d > 0 ? 1.1 : 0);
});
addFrame(histG);
axisLeft(histG, histY, histYTicks, d3.format("d"));
axisBottom(histG, histX, histXTicks, minusFmt);
unitTspans(xLabel(histG, panelH + 45, ""), "Wind speed");
yLabel(histG, 821 - rightX, "Frequency");

const histLeg = histG.append("g").attr("transform", `translate(${-rightX},${-lowRow})`);
legendBox(histLeg, 1436.7, 814.3, 120.5, 33.5);
histLeg.append("rect").attr("x", 1441.7).attr("y", 819.3).attr("width", 22).attr("height", 7.5)
  .attr("fill", "#1f77b4").attr("fill-opacity", 0.65).attr("stroke", "#000").attr("stroke-opacity", 0.65);
histLeg.append("rect").attr("x", 1441.7).attr("y", 834.6).attr("width", 22).attr("height", 7.5)
  .attr("fill", "#ff7f0e").attr("fill-opacity", 0.65).attr("stroke", "#000").attr("stroke-opacity", 0.65);
legendText(histLeg, 1472.3, 824.3, "U (zonal)");
legendText(histLeg, 1472.3, 839, "V (meridional)");
</script>
</body>
</html>
